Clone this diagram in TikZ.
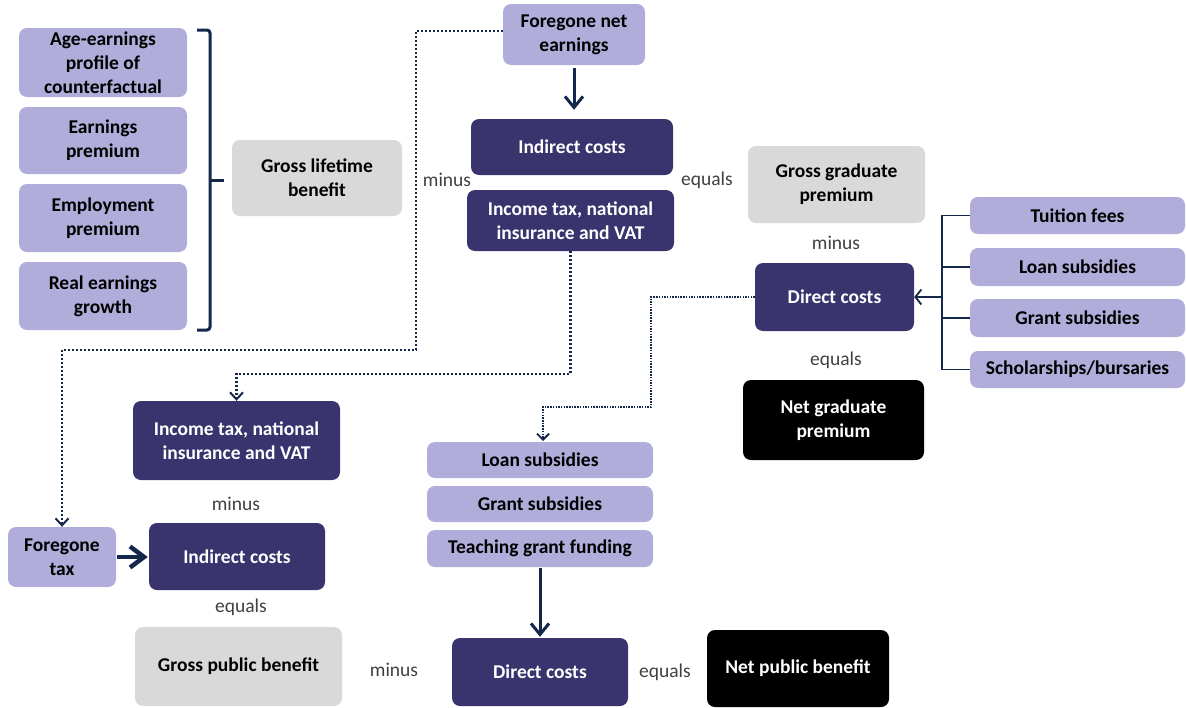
\documentclass[tikz,border=0pt]{standalone}
\usepackage{fontspec}
\setmainfont{Carlito}
\usetikzlibrary{arrows.meta}
\definecolor{lp}{HTML}{B1ADDB}
\definecolor{dp}{HTML}{3A346E}
\definecolor{gr}{HTML}{D9D9D9}
\definecolor{nv}{HTML}{14284B}
\definecolor{tg}{HTML}{404040}
\begin{document}
\begin{tikzpicture}[x=1pt,y=-1pt,
  box/.style={rounded corners=8pt, inner sep=0pt, align=center, font=\fontsize{19.5}{24}\selectfont\bfseries},
  lpbox/.style={box, fill=lp, text=black},
  dpbox/.style={box, fill=dp, text=white},
  grbox/.style={box, fill=gr, text=black},
  bkbox/.style={box, fill=black, text=white},
  sz/.style 2 args={minimum width=#1pt, minimum height=#2pt},
  lbl/.style={font=\fontsize{19.5}{24}\selectfont, text=tg, inner sep=0pt},
  solidarr/.style={draw=nv, line width=3pt, -{Straight Barb[length=11pt,width=18pt,line width=3pt]}},
  thickarr/.style={draw=nv, line width=4.5pt, -{Straight Barb[length=14pt,width=21pt,line width=4.5pt]}},
  dotline/.style={draw=nv, line width=2.5pt, dash pattern=on 2.2pt off 1.8pt, -{Straight Barb[length=7pt,width=13pt,line width=2pt]}},
  fineline/.style={draw=nv, line width=1.5pt, dash pattern=on 1.5pt off 1.2pt, -{Straight Barb[length=6pt,width=12pt,line width=1.8pt]}},
  treeline/.style={draw=nv, line width=1.8pt},
  bracestyle/.style={draw=nv, line width=3pt, rounded corners=3pt}
]
\useasboundingbox (0,0) rectangle (1186,707);

% left column
\node[lpbox, sz={168}{69}] (age) at (103,62.5) {Age-earnings\\profile of\\counterfactual};
\node[lpbox, sz={168}{67}] (earn) at (103,140.5) {Earnings\\premium};
\node[lpbox, sz={168}{68}] (emp) at (103,218) {Employment\\premium};
\node[lpbox, sz={168}{68}] (real) at (103,296) {Real earnings\\growth};
\node[grbox, sz={170}{76}] (glb) at (317,178) {Gross lifetime\\benefit};

% top centre
\node[lpbox, sz={142}{61}] (fne) at (574,34.5) {Foregone net\\earnings};
\node[dpbox, sz={202}{56}] (ind1) at (572,147) {Indirect costs};
\node[dpbox, sz={207}{61}] (itax1) at (570.5,220.5) {Income tax, national\\insurance and VAT};
\node[grbox, sz={177}{77}] (ggp) at (836.5,184.5) {Gross graduate\\premium};
\node[dpbox, sz={159}{68}] (dc1) at (834.5,297) {Direct costs};
\node[bkbox, sz={181}{80}] (ngp) at (833.5,420) {Net graduate\\premium};

% right column
\node[lpbox, sz={215}{37}] (tui) at (1077.5,215.5) {Tuition fees};
\node[lpbox, sz={215}{38}] (loan1) at (1077.5,267) {Loan subsidies};
\node[lpbox, sz={215}{38}] (grant1) at (1077.5,318) {Grant subsidies};
\node[lpbox, sz={215}{37}] (schol) at (1077.5,369.5) {Scholarships/bursaries};

% bottom left
\node[dpbox, sz={207}{79}] (itax2) at (236.5,440.5) {Income tax, national\\insurance and VAT};
\node[lpbox, sz={108}{60}] (ftax) at (62,557) {Foregone\\tax};
\node[dpbox, sz={176}{67}] (ind2) at (237,556.5) {Indirect costs};
\node[grbox, sz={207}{79}] (gpb) at (238.5,666.5) {Gross public benefit};

% bottom centre
\node[lpbox, sz={226}{36}] (loan2) at (540,460) {Loan subsidies};
\node[lpbox, sz={226}{36}] (grant2) at (540,504) {Grant subsidies};
\node[lpbox, sz={226}{37}] (teach) at (540,548.5) {Teaching grant funding};
\node[dpbox, sz={176}{68}] (dc2) at (540,672) {Direct costs};
\node[bkbox, sz={182}{77}] (npb) at (798,668.5) {Net public benefit};

% labels
\node[lbl] (m1) at (447,180) {minus};
\node[lbl] (e1) at (707,180) {equals};
\node[lbl] (m2) at (836,243) {minus};
\node[lbl] (e2) at (836,360) {equals};
\node[lbl] (m3) at (236,504) {minus};
\node[lbl] (e3) at (241,607) {equals};
\node[lbl] (m4) at (394,670) {minus};
\node[lbl] (e4) at (665,672) {equals};

% brace
\coordinate (bt) at (197,30);
\coordinate (bb) at (197,330);
\coordinate (bm) at (210,180);
\draw[bracestyle] (bt) -| (bm);
\draw[bracestyle] (bb) -| (bm);
\draw[draw=nv, line width=3pt] (bm) -- (224,180);

% solid arrows
\draw[solidarr, shorten <=3pt, shorten >=9pt] (fne.south) -- (fne.south |- ind1.north);
\draw[solidarr, shorten <=1pt, shorten >=1pt] (teach.south) -- (dc2.north);
\draw[thickarr, shorten <=1pt, shorten >=1pt] (ftax.east) -- (ftax.east -| ind2.west);

% dotted connectors
\coordinate (d1a) at (416,31);
\coordinate (d1b) at (416,350);
\draw[dotline] (fne.west |- d1a) -- (d1a) -- (d1b) -| (ftax.north);
\coordinate (d2a) at (570.5,374);
\draw[dotline] (itax1.south) -- (d2a) -| (itax2.north);
\coordinate (d3a) at (651,297);
\coordinate (d3b) at (651,407);
\coordinate (d3c) at (543,407);
\draw[fineline] (dc1.west) -- (d3a) -- (d3b) -- (d3c) -- (543,441);

% tree
\coordinate (tx) at (942,297);
\draw[treeline] (tui.west) -- (942,215.5) -- (942,369.5) -- (schol.west);
\draw[treeline] (loan1.west) -- (942,267);
\draw[treeline] (grant1.west) -- (942,318);
\draw[treeline, -{Straight Barb[length=6pt,width=15pt,line width=1.8pt]}] (tx) -- (dc1.east);
\end{tikzpicture}
\end{document}
